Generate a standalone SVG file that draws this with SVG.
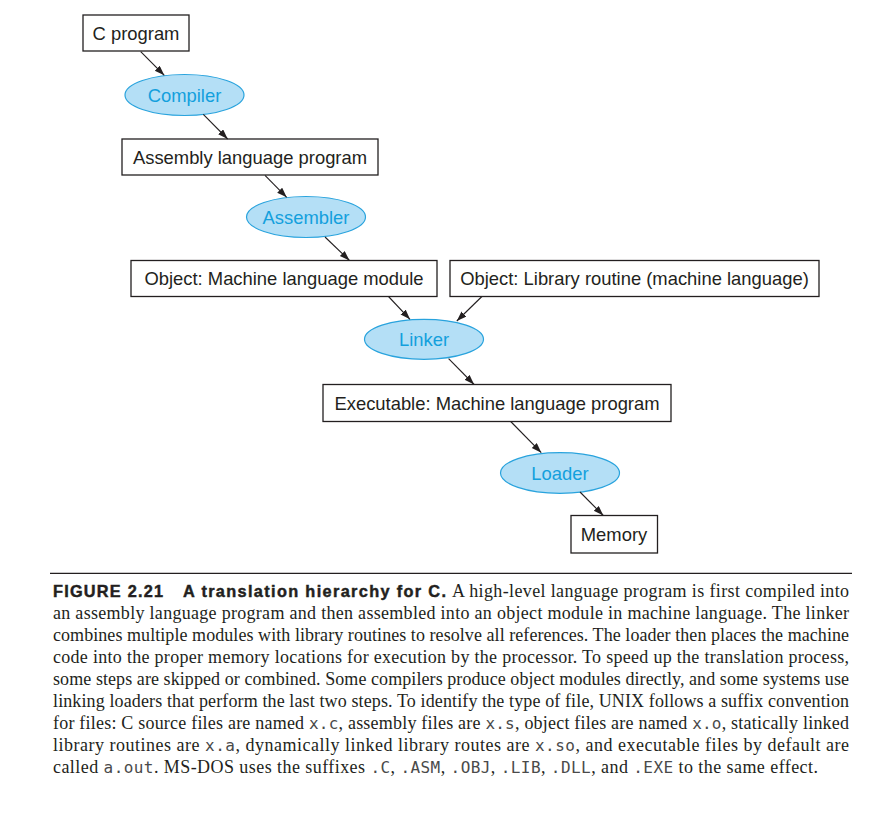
<svg xmlns="http://www.w3.org/2000/svg" width="882" height="820" viewBox="0 0 882 820">
<defs>
<marker id="ah" markerUnits="userSpaceOnUse" markerWidth="10" markerHeight="8" refX="10" refY="3.5" orient="auto">
<path d="M0,0 L10,3.5 L0,7 z" fill="#231f20"/>
</marker>
<style>
.box{fill:#fff;stroke:#231f20;stroke-width:1.3}
.ell{fill:#b4dff6;stroke:#29a3dd;stroke-width:1.2}
.bt{font-family:"Liberation Sans",Arial,sans-serif;font-size:18.4px;fill:#231f20;text-anchor:middle}
.et{font-family:"Liberation Sans",Arial,sans-serif;font-size:18.4px;fill:#13a0dd;text-anchor:middle}
.conn line{stroke:#231f20;stroke-width:1.1;marker-end:url(#ah)}
.cap{font-family:"Liberation Serif","Times New Roman",serif;font-size:18px;fill:#231f20}
.hd{font-family:"Liberation Sans",Arial,sans-serif;font-weight:bold;font-size:16.3px;fill:#231f20;stroke:#231f20;stroke-width:0.45}
.mo{font-family:"DejaVu Sans Mono","Liberation Mono",monospace;font-size:16px;fill:#4a4a4a;stroke:none}
</style>
</defs>
<rect width="882" height="820" fill="#fff"/>

<g id="c-program"><rect class="box" x="83" y="15" width="106" height="36"/><text class="bt" x="136" y="39.5">C program</text></g>
<g id="compiler"><ellipse class="ell" cx="184.5" cy="95" rx="59.5" ry="20.5"/><text class="et" x="184.5" y="101.5">Compiler</text></g>
<g id="assembly"><rect class="box" x="122" y="139" width="256" height="36"/><text class="bt" x="250" y="163.5">Assembly language program</text></g>
<g id="assembler"><ellipse class="ell" cx="306" cy="217" rx="59.5" ry="20.5"/><text class="et" x="306" y="223.5">Assembler</text></g>
<g id="object-module"><rect class="box" x="131" y="260.5" width="306" height="36"/><text class="bt" x="284" y="285">Object: Machine language module</text></g>
<g id="object-library"><rect class="box" x="450" y="260.5" width="369" height="36"/><text class="bt" x="634.5" y="285">Object: Library routine (machine language)</text></g>
<g id="linker"><ellipse class="ell" cx="424" cy="339.3" rx="59.5" ry="20"/><text class="et" x="424" y="345.8">Linker</text></g>
<g id="executable"><rect class="box" x="323" y="384.5" width="348" height="37"/><text class="bt" x="497" y="409.5">Executable: Machine language program</text></g>
<g id="loader"><ellipse class="ell" cx="560" cy="473" rx="59.5" ry="20.3"/><text class="et" x="560" y="479.5">Loader</text></g>
<g id="memory"><rect class="box" x="571" y="515.5" width="86.5" height="37.5"/><text class="bt" x="614" y="540.5">Memory</text></g>

<g id="connectors" class="conn">
<line x1="140.7" y1="51.7" x2="164.3" y2="75.3"/>
<line x1="203.3" y1="114.3" x2="227.7" y2="139"/>
<line x1="265" y1="175.3" x2="286.7" y2="197.3"/>
<line x1="325" y1="237" x2="349.5" y2="260.5"/>
<line x1="388.5" y1="296.5" x2="410" y2="319.3"/>
<line x1="481.9" y1="296.5" x2="456.8" y2="321"/>
<line x1="448.6" y1="358.7" x2="474.1" y2="384.5"/>
<line x1="510.7" y1="421.5" x2="541.3" y2="452.7"/>
<line x1="580" y1="492" x2="603.3" y2="515.5"/>
</g>

<g id="caption">
<line x1="50" y1="573.3" x2="852" y2="573.3" stroke="#231f20" stroke-width="1.2"/>
<text x="53" y="597.3"><tspan class="hd" x="53" textLength="110" lengthAdjust="spacing">FIGURE 2.21</tspan><tspan class="hd" x="183" textLength="263" lengthAdjust="spacing">A translation hierarchy for C.</tspan><tspan class="cap" x="452" textLength="397" lengthAdjust="spacing">A high-level language program is first compiled into</tspan></text>
<text class="cap" x="53" y="619.2" textLength="796" lengthAdjust="spacing">an assembly language program and then assembled into an object module in machine language. The linker</text>
<text class="cap" x="53" y="641.1" textLength="796" lengthAdjust="spacing">combines multiple modules with library routines to resolve all references. The loader then places the machine</text>
<text class="cap" x="53" y="663" textLength="796" lengthAdjust="spacing">code into the proper memory locations for execution by the processor. To speed up the translation process,</text>
<text class="cap" x="53" y="684.9" textLength="796" lengthAdjust="spacing">some steps are skipped or combined. Some compilers produce object modules directly, and some systems use</text>
<text class="cap" x="53" y="706.8" textLength="796" lengthAdjust="spacing">linking loaders that perform the last two steps. To identify the type of file, UNIX follows a suffix convention</text>
<text class="cap" x="53" y="728.7" textLength="796" lengthAdjust="spacing">for files: C source files are named <tspan class="mo">x.c</tspan>, assembly files are <tspan class="mo">x.s</tspan>, object files are named <tspan class="mo">x.o</tspan>, statically linked</text>
<text class="cap" x="53" y="750.6" textLength="796" lengthAdjust="spacing">library routines are <tspan class="mo">x.a</tspan>, dynamically linked library routes are <tspan class="mo">x.so</tspan>, and executable files by default are</text>
<text class="cap" x="53" y="772.5" textLength="765" lengthAdjust="spacing">called <tspan class="mo">a.out</tspan>. MS-DOS uses the suffixes <tspan class="mo">.C</tspan>, <tspan class="mo">.ASM</tspan>, <tspan class="mo">.OBJ</tspan>, <tspan class="mo">.LIB</tspan>, <tspan class="mo">.DLL</tspan>, and <tspan class="mo">.EXE</tspan> to the same effect.</text>
</g>
</svg>
